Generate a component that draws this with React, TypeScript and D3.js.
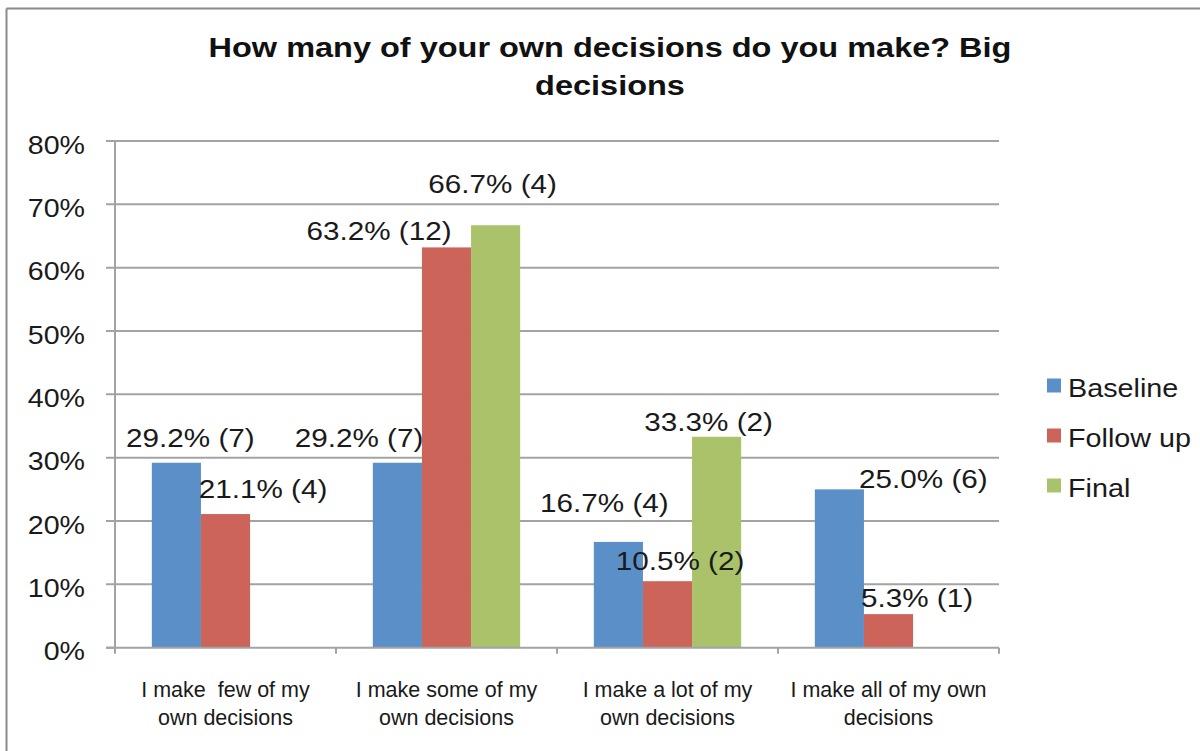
import React from "react";
import * as d3 from "d3";

// ---- data ----
const title = ["How many of your own decisions do you make? Big", "decisions"];
const categories = [
  "I make  few of my\nown decisions",
  "I make some of my\nown decisions",
  "I make a lot of my\nown decisions",
  "I make all of my own\ndecisions",
];
const seriesNames = ["Baseline", "Follow up", "Final"];
const baselineValues: (number | null)[] = [29.2, 29.2, 16.7, 25.0];
const followUpValues: (number | null)[] = [21.1, 63.2, 10.5, 5.3];
const finalValues: (number | null)[] = [null, 66.7, 33.3, null];
const baselineCounts: (number | null)[] = [7, 7, 4, 6];
const followUpCounts: (number | null)[] = [4, 12, 2, 1];
const finalCounts: (number | null)[] = [null, 4, 2, null];
const yTicks = [0, 10, 20, 30, 40, 50, 60, 70, 80];

// ---- layout / style (not data) ----
const seriesColors = ["#5B8FC7", "#CC645A", "#AAC36A"];
// manual label nudges [dx, dy] relative to bar top-center, per category/series
const labelNudges: ([number, number] | null)[][] = [
  [[14, -16], [37.5, -16], null],
  [[-38.4, -16], [-67.5, -7.4], [-3, -32]],
  [[-14, -30], [12.5, -11], [-8, -6]],
  [[84, -1.5], [28.5, -7], null],
];

const W = 1200;
const H = 751;
const PL = 115, PR = 999, PT = 141, PB = 647.7;
const FONT = "'Liberation Sans', Arial, Helvetica, sans-serif";
const GRID = "#A3A3A3";

export default function App() {
  const values = [baselineValues, followUpValues, finalValues];
  const counts = [baselineCounts, followUpCounts, finalCounts];

  const x0 = d3.scaleBand<string>().domain(categories).range([PL, PR]).paddingInner(0).paddingOuter(0);
  const x1 = d3
    .scaleBand<string>()
    .domain(seriesNames)
    .range([0, x0.bandwidth()])
    .paddingInner(0)
    .paddingOuter(0.75);
  const y = d3.scaleLinear().domain([0, 80]).range([PB, PT]);

  const boundaries = [...categories.map((c) => x0(c)!), PR];

  return (
    <svg
      width={W}
      height={H}
      style={{ position: "absolute", left: 0, top: 0, display: "block", background: "#fff" }}
      fontFamily={FONT}
    >
      <rect x={0} y={0} width={W} height={H} fill="#fff" />
      {/* outer frame */}
      <line x1={6.5} y1={8.5} x2={W} y2={8.5} stroke="#8A8A8A" strokeWidth={2} />
      <line x1={6.5} y1={8.5} x2={6.5} y2={H} stroke="#8A8A8A" strokeWidth={2} />

      {/* title */}
      {title.map((t, i) => (
        <text
          key={t}
          transform={`translate(610, ${57 + i * 38}) scale(1.16, 1)`}
          textAnchor="middle"
          fontSize={28}
          fontWeight="bold"
          fill="#111"
        >
          {t}
        </text>
      ))}

      {/* gridlines + y ticks */}
      {yTicks.map((t) => (
        <g key={t}>
          {t > 0 && <line x1={PL - 9} x2={PR} y1={y(t)} y2={y(t)} stroke={GRID} strokeWidth={2} />}
          {t === 0 && <line x1={PL - 9} x2={PL} y1={y(t)} y2={y(t)} stroke={GRID} strokeWidth={2} />}
          <text
            transform={`translate(85, ${y(t) + 12.5}) scale(1.1, 1)`}
            textAnchor="end"
            fontSize={26}
            fill="#1a1a1a"
          >
            {`${t}%`}
          </text>
        </g>
      ))}

      {/* bars */}
      {categories.map((c, ci) =>
        seriesNames.map((s, si) => {
          const v = values[si][ci];
          if (v == null) return null;
          return (
            <rect
              key={c + s}
              x={x0(c)! + x1(s)!}
              y={y(v)}
              width={x1.bandwidth()}
              height={y(0) - y(v)}
              fill={seriesColors[si]}
            />
          );
        })
      )}

      {/* axes */}
      <line x1={PL} x2={PL} y1={PT} y2={PB} stroke={GRID} strokeWidth={2} />
      <line x1={PL - 9} x2={PR} y1={PB} y2={PB} stroke={GRID} strokeWidth={2} />
      {boundaries.map((b, i) => (
        <line key={i} x1={b} x2={b} y1={PB} y2={PB + 6} stroke={GRID} strokeWidth={2} />
      ))}

      {/* data labels */}
      {categories.map((c, ci) =>
        seriesNames.map((s, si) => {
          const v = values[si][ci];
          const n = counts[si][ci];
          const nudge = labelNudges[ci][si];
          if (v == null || n == null || !nudge) return null;
          const cx = x0(c)! + x1(s)! + x1.bandwidth() / 2 + nudge[0];
          const cy = y(v) + nudge[1];
          return (
            <text
              key={"l" + c + s}
              transform={`translate(${cx}, ${cy}) scale(1.12, 1)`}
              textAnchor="middle"
              fontSize={26.5}
              fill="#1a1a1a"
            >
              {`${v.toFixed(1)}% (${n})`}
            </text>
          );
        })
      )}

      {/* category labels */}
      {categories.map((c) => {
        const cx = x0(c)! + x0.bandwidth() / 2;
        return c.split("\n").map((line, li) => (
          <text
            key={c + li}
            x={cx}
            y={697 + li * 28}
            textAnchor="middle"
            fontSize={21.5}
            fill="#1a1a1a"
            style={{ whiteSpace: "pre" }}
          >
            {line}
          </text>
        ));
      })}

      {/* legend */}
      {seriesNames.map((s, si) => {
        const by = 397 + si * 50;
        return (
          <g key={"lg" + s}>
            <rect x={1047} y={by - 18.5} width={14} height={14} fill={seriesColors[si]} />
            <text
              transform={`translate(1068, ${by}) scale(1.15, 1)`}
              fontSize={25}
              fill="#1a1a1a"
            >
              {s}
            </text>
          </g>
        );
      })}
    </svg>
  );
}
